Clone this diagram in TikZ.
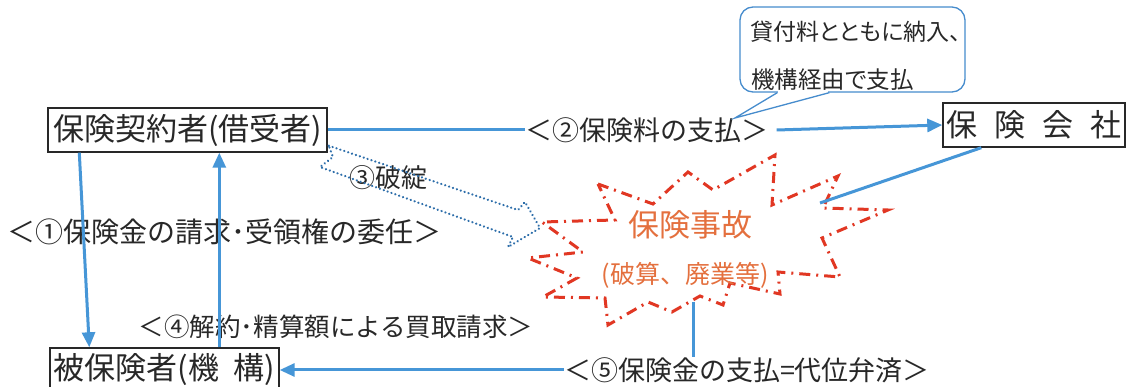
\documentclass[tikz,border=0pt]{standalone}
\usepackage{fontspec}
\setmainfont{Noto Sans CJK JP}
\usetikzlibrary{arrows.meta,calc}
\definecolor{flowblue}{RGB}{70,150,215}
\definecolor{dotblue}{RGB}{45,110,170}
\definecolor{burst}{RGB}{225,55,35}
\definecolor{eventtxt}{RGB}{228,112,62}
\definecolor{ink}{RGB}{40,40,40}
\definecolor{callblue}{RGB}{70,140,205}
\begin{document}
\begin{tikzpicture}[x=1pt,y=-1pt,
  box/.style={draw=ink,line width=1.4pt,inner sep=0pt,text=ink},
  lbl/.style={inner sep=0pt,text=ink},
  flow/.style={draw=flowblue,line width=3pt},
  arr/.style={flow,-{Triangle[length=15pt,width=13pt]}},
  burstline/.style={draw=burst,line width=3pt,dash pattern=on 11pt off 6pt on 2pt off 6pt},
  dotline/.style={draw=dotblue,line width=2.4pt,line cap=round,dash pattern=on 0.1pt off 4pt},
  evt/.style={inner sep=0pt,text=eventtxt}]
\clip (0,0) rectangle (1128,387);
\fill[white] (0,0) rectangle (1128,387);

% boxes
\node[box,minimum width=279pt,minimum height=44pt,font=\fontsize{31}{31}\selectfont] (A) at (187.5,130) {保険契約者(借受者)};
\node[box,minimum width=182pt,minimum height=44pt,font=\fontsize{31}{31}\selectfont] (B) at (1034,125) {保\hspace{17pt}険\hspace{17pt}会\hspace{17pt}社};
\node[box,minimum width=229pt,minimum height=44pt,font=\fontsize{31}{31}\selectfont] (C) at (164.5,370) {被保険者(機\hspace{15pt}構)};

% labels
\node[lbl,font=\fontsize{28}{28}\selectfont] (L1) at (225,232) {＜①保険金の請求･受領権の委任＞};
\node[lbl,font=\fontsize{27}{27}\selectfont] (L2) at (647,130) {＜②保険料の支払＞};
\node[lbl,font=\fontsize{26}{26}\selectfont] (L3) at (388,178) {③破綻};
\node[lbl,font=\fontsize{25.5}{25.5}\selectfont] (L4) at (336,327) {＜④解約･精算額による買取請求＞};
\node[lbl,font=\fontsize{27}{27}\selectfont] (L5) at (747,370) {＜⑤保険金の支払=代位弁済＞};

% starburst
\draw[burstline] (598,184) -- (653,204) -- (688,172) -- (713,190) -- (775,155) -- (772,205)
  -- (838,176) -- (823,208) -- (888,210) -- (822,238) -- (840,277) -- (778,272) -- (780,294)
  -- (730,283) -- (723,305) -- (700,296) -- (672,312) -- (648,302) -- (608,325) -- (605,298)
  -- (543,297) -- (577,278) -- (528,258) -- (583,252) -- (542,222) -- (615,220) -- cycle;
\node[evt,font=\fontsize{31}{31}\selectfont] (E1) at (690,225) {保険事故};
\node[evt,font=\fontsize{25}{25}\selectfont] (E2) at (685,275) {(破算、廃業等)};
\coordinate (SB) at (693,302);
\coordinate (SR) at (820,203);

% callout
\node[draw=callblue,line width=1.3pt,rounded corners=13pt,minimum width=225pt,minimum height=85pt] (K) at (852.5,49.5) {};
\fill[white] ($(K.south west)+(39,-1.5)$) rectangle ($(K.south west)+(89,1.5)$);
\coordinate (KT) at (735,118);
\draw[callblue,line width=1.3pt] ($(K.south west)+(38,0)$) -- (KT) -- ($(K.south west)+(90,0)$);
\node[lbl,anchor=west,font=\fontsize{23}{23}\selectfont\addfontfeature{RawFeature=+palt}] (K1) at (750,32) {貸付料とともに納入、};
\node[lbl,anchor=west,font=\fontsize{23.5}{23.5}\selectfont\addfontfeature{RawFeature=+palt}] (K2) at (751,80) {機構経由で支払};

% hollow dotted arrow (3)
\coordinate (H0) at ($(A.south east)+(1,-7)$);
\draw[dotline] (H0) -- (518,210) -- (525,202) -- (540,228) -- (508,247) -- (513,237) -- (320,167) -- (333,157) -- cycle;

% connectors
\draw[flow] (A.east) -- (L2.west);
\draw[arr] ($(L2.east)+(8,0)$) -- (B.west);
\draw[flow] ($(B.south west)+(39,0)$) -- (SR);
\draw[flow] (SB) -- (SB |- L5.north);
\draw[arr] (L5.west) -- (C.east);
\draw[arr] ($(A.south west)+(32,0)$) -- ($(C.north west)+(40,0)$);
\draw[arr] ($(C.north west)+(170,0)$) -- ($(A.south west)+(172,0)$);
\end{tikzpicture}
\end{document}
